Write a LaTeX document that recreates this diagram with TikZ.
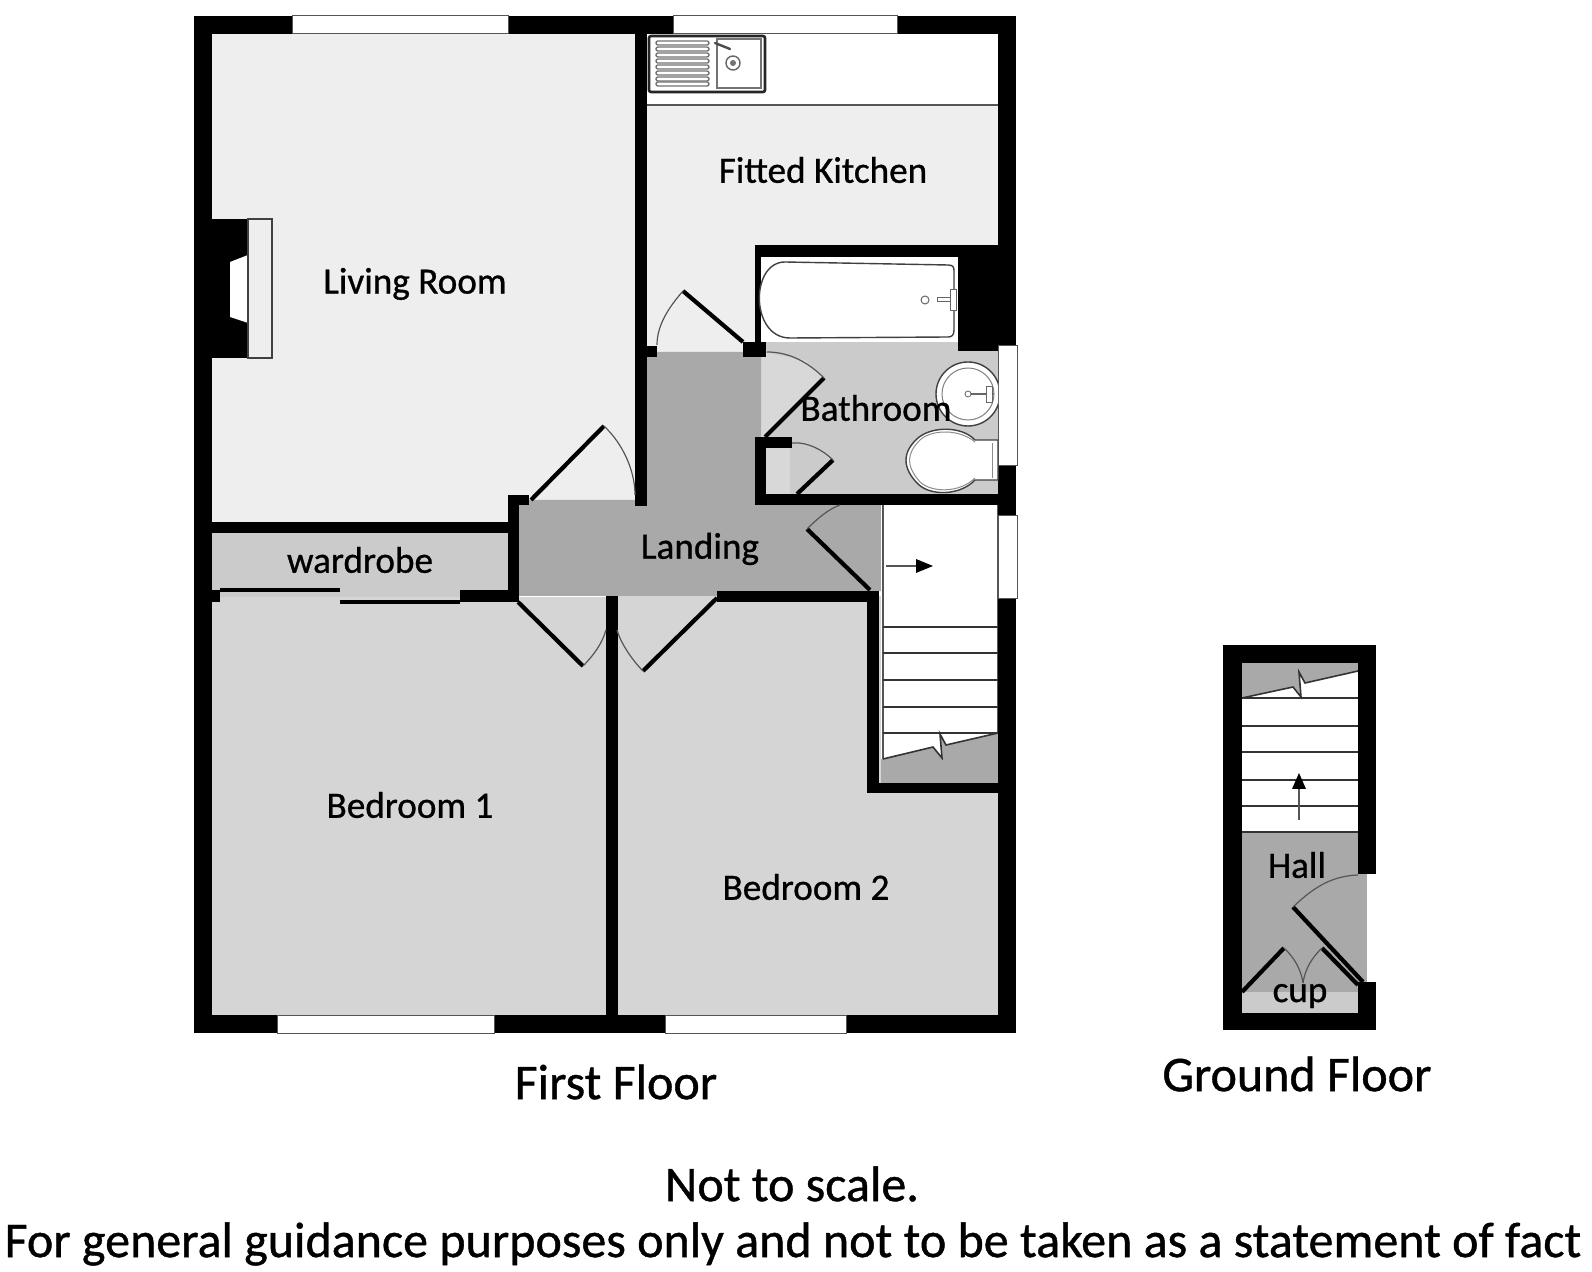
\documentclass[tikz,border=0pt]{standalone}
\usepackage{fontspec}
\setmainfont{Carlito}[BoldFont={Carlito},BoldFeatures={FakeBold=0.8}]
\definecolor{living}{HTML}{EEEEEE}
\definecolor{bedrm}{HTML}{D5D5D5}
\definecolor{landg}{HTML}{A9A9A9}
\definecolor{bathr}{HTML}{CBCBCB}
\definecolor{swingz}{HTML}{D8D8D8}
\definecolor{lineg}{HTML}{555555}
\tikzset{
  wall/.style={fill=black},
  winpane/.style={fill=white,draw=lineg,line width=0.5pt},
  leaf/.style={draw=black,line width=2.1pt},
  swingarc/.style={draw=lineg,line width=0.6pt},
  tread/.style={draw=black!80,line width=0.8pt},
  fixture/.style={draw=black!75,fill=white,line width=0.7pt},
  roomlabel/.style={font=\bfseries\fontsize{18.6}{22}\selectfont,text=black,inner sep=0pt},
  biglabel/.style={font=\bfseries\fontsize{25}{29}\selectfont,text=black,inner sep=0pt},
}
\begin{document}
\begin{tikzpicture}[x=0.5pt,y=-0.5pt]
\useasboundingbox[fill=white] (0,0) rectangle (1592,1272);
% room floors
\fill[living] (212,34) rectangle (635,522);
\fill[living] (646,106) rectangle (998,245);
\fill[living] (646,245) rectangle (755,352);
\fill[white] (646,34) rectangle (998,105);
\draw[draw=lineg,line width=0.7pt] (646,105) -- (998,105);
\fill[bathr] (212,533) rectangle (508,597);
\fill[bedrm] (212,597) rectangle (606,1015);
\fill[bedrm] (617,596) rectangle (998,1015);
\fill[white] (761,257) rectangle (958,342);
\fill[bathr] (761,342) rectangle (998,494);
\fill[swingz] (761,352) -- (805,360) -- (824,378) -- (765,437) -- (761,437) -- cycle;
\fill[swingz] (766,448) rectangle (790,494);
\fill[landg] (519,500) -- (635,500) -- (635,506) -- (647,506) -- (647,352) -- (761,352) -- (761,505) -- (883,505) -- (883,591) -- (717,596) -- (519,596) -- cycle;
% first floor stairs
\fill[white] (881,505) rectangle (998,760);
\fill[landg] (881,759) -- (933,747) -- (942,758) -- (940,734) -- (946,745) -- (998,733) -- (998,783) -- (881,783) -- cycle;
\draw[draw=lineg,line width=0.6pt] (883,505) -- (883,759);
\draw[draw=lineg,line width=0.6pt] (998,505) -- (998,733);
\foreach \ty in {627,653,680,707,733} \draw[tread] (883,\ty) -- (998,\ty);
\draw[tread] (883,759) -- (933,747) -- (942,758) -- (940,734) -- (946,745) -- (998,733);
\draw[draw=lineg,line width=0.8pt] (886,566) -- (916,566);
\fill[black] (933,566) -- (916,559) -- (916,573) -- cycle;
% first floor walls
\fill[wall] (194,16) rectangle (1016,34);
\fill[wall] (194,16) rectangle (212,1033);
\fill[wall] (194,1015) rectangle (1016,1033);
\fill[wall] (998,16) rectangle (1016,1033);
\fill[wall] (635,34) rectangle (647,506);
\fill[wall] (212,522) rectangle (519,533);
\fill[wall] (508,495) rectangle (519,602);
\fill[wall] (508,495) rectangle (529,505);
\fill[wall] (460,590) rectangle (519,602);
\fill[wall] (212,590) rectangle (220,602);
\fill[wall] (606,596) rectangle (617.5,1015);
\fill[wall] (717,591) rectangle (879,602);
\fill[wall] (867,591) rectangle (879,793);
\fill[wall] (867,783) rectangle (998,793);
\fill[wall] (755,245) rectangle (998,257);
\fill[wall] (755,245) rectangle (761,357);
\fill[wall] (958,245) rectangle (998,351);
\fill[wall] (743,342) rectangle (766,357);
\fill[wall] (646,346) rectangle (657,357);
\fill[wall] (755,437) rectangle (766,505);
\fill[wall] (755,437) rectangle (792,448);
\fill[wall] (755,494) rectangle (998,505);
% sliding wardrobe doors
\fill[wall] (220,588) rectangle (340,592);
\fill[wall] (340,600) rectangle (460,604);
% windows
\draw[winpane] (292,16) rectangle (508,34);
\draw[winpane] (673,16) rectangle (897,34);
\draw[winpane] (277,1015) rectangle (494,1033);
\draw[winpane] (665,1015) rectangle (846,1033);
\draw[winpane] (998,346) rectangle (1017,466);
\draw[winpane] (998,516) rectangle (1017,599);
% fireplace
\fill[wall] (212,219) rectangle (249,358);
\fill[white] (230,262) -- (248,255) -- (248,323) -- (230,317) -- cycle;
\draw[draw=black!75,fill=living,line width=0.8pt] (248,219) rectangle (272,358);
% doors
\draw[leaf] (531,500) -- (604,426);
\draw[swingarc] (604,426) .. controls (624,445) and (635,472) .. (635,495);
\draw[leaf] (518,602) -- (583,666);
\draw[swingarc] (583,666) .. controls (593,656) and (602,644) .. (606,630);
\draw[leaf] (717,598) -- (643,671);
\draw[swingarc] (643,671) .. controls (633,661) and (621,644) .. (617,630);
\draw[leaf] (743,342) -- (683,291);
\draw[swingarc] (683,291) .. controls (670,306) and (657,324) .. (657,345);
\draw[leaf] (765,437) -- (824,378);
\draw[swingarc] (767,352) .. controls (789,352) and (808,362) .. (824,378);
\draw[leaf] (797,494) -- (833,460);
\draw[swingarc] (792,443) .. controls (807,441.5) and (823,450) .. (833,460);
\draw[leaf] (870,590) -- (807,529);
\draw[swingarc] (807,529) .. controls (816,520) and (827.5,509.4) .. (840,505);
% sink
\draw[draw=black!85,fill=white,line width=1.3pt,rounded corners=1pt] (649,36) rectangle (765,92);
\draw[draw=black!55,line width=0.6pt] (717,39) rectangle (761,88);
\foreach \ty in {43,49,55,61,67,73,79,84}
  \draw[draw=black!55,fill=white,line width=0.7pt,rounded corners=1pt] (656,\ty-2) rectangle (709,\ty+2);
\draw[draw=black!60,line width=0.7pt] (733,63) circle[radius=7];
\fill[black!55] (733,63) circle[radius=3];
\draw[draw=black!70,line width=1.2pt,line cap=round] (715,43) -- (730,49);
% bath
\draw[fixture] (785,262) -- (948,265) .. controls (954,265) and (954,268) .. (954,272) -- (954,330) .. controls (954,335) and (952,337) .. (948,337) -- (790,338) .. controls (750,338) and (750,262) .. (785,262) -- cycle;
\draw[draw=black!60,fill=white,line width=0.5pt] (925,300) circle[radius=4];
\draw[draw=black!60,fill=white,line width=0.5pt] (937,298) rectangle (955,302);
\draw[draw=black!60,fill=white,line width=0.5pt] (950,290) rectangle (956,311);
% basin
\begin{scope}
\clip (900,350) rectangle (998,440);
\draw[fixture] (968,394) circle[radius=32];
\draw[draw=black!50,line width=0.5pt] (968,394) circle[radius=26];
\end{scope}
\draw[draw=black!60,line width=0.7pt] (968,394) -- (994,394);
\draw[draw=black!60,fill=white,line width=0.4pt] (968,394) circle[radius=3];
\draw[draw=black!60,fill=white,line width=0.4pt] (986,386) rectangle (992,402);
% toilet
\draw[fixture] (975,440) -- (998,440) -- (998,480) -- (975,480) .. controls (960,496) and (930,496) .. (918,484) .. controls (902,468) and (902,452) .. (918,438) .. controls (932,426) and (962,426) .. (975,440) -- cycle;
\draw[draw=black!45,line width=0.5pt] (975,442) .. controls (960,429) and (932,429) .. (920,440) .. controls (906,454) and (906,466) .. (920,482) .. controls (932,493) and (960,493) .. (975,478);
\draw[draw=black!45,line width=0.5pt] (992,443) -- (992,478);
% ground floor floors
\fill[landg] (1242,663) rectangle (1358,992);
\fill[landg] (1358,874) rectangle (1367,982);
\fill[bathr] (1242,992) rectangle (1358,1013);
\fill[white] (1242,698) -- (1293,687) -- (1301,697) -- (1299,672) -- (1305,683) -- (1358,671) -- (1358,832) -- (1242,832) -- cycle;
\foreach \ty in {698,726,752,780,806,832} \draw[tread] (1242,\ty) -- (1358,\ty);
\draw[tread] (1242,698) -- (1293,687) -- (1301,697) -- (1299,672) -- (1305,683) -- (1358,671);
\draw[draw=lineg,line width=0.8pt] (1299,820) -- (1299,789);
\fill[black] (1299,773) -- (1292,789) -- (1306,789) -- cycle;
% ground floor walls
\fill[wall] (1223,645) rectangle (1376,663);
\fill[wall] (1223,645) rectangle (1242,1030);
\fill[wall] (1223,1013) rectangle (1376,1030);
\fill[wall] (1358,645) rectangle (1376,874);
\fill[wall] (1358,982) rectangle (1376,1030);
% ground floor doors
\draw[leaf] (1293,907) -- (1363,982);
\draw[swingarc] (1293,907) .. controls (1312,889) and (1330,876) .. (1358,875);
\draw[leaf] (1242,992) -- (1284,948);
\draw[leaf] (1322,948) -- (1358,985);
\draw[swingarc] (1284,948) .. controls (1294,957.5) and (1301,969) .. (1303,983);
\draw[swingarc] (1322,948) .. controls (1312,957.5) and (1305,969) .. (1303,983);
% labels
\node[roomlabel] (lbliving) at (415,284) {Living Room};
\node[roomlabel] (lbkitchen) at (823,170) {Fitted Kitchen};
\node[roomlabel] (lbbath) at (876,408) {Bathroom};
\node[roomlabel] (lbland) at (700,549) {Landing};
\node[roomlabel] (lbward) at (360,560) {wardrobe};
\node[roomlabel] (lbbed1) at (410,805) {Bedroom 1};
\node[roomlabel] (lbbed2) at (806,887) {Bedroom 2};
\node[roomlabel] (lbhall) at (1297,865) {Hall};
\node[roomlabel] (lbcup) at (1300,996) {cup};
\node[biglabel] (lbfirst) at (616,1082) {First Floor};
\node[biglabel] (lbground) at (1297,1074) {Ground Floor};
\node[biglabel] (lbscale) at (792,1184) {Not to scale.};
\node[biglabel] (lbguid) at (793,1244) {For general guidance purposes only and not to be taken as a statement of fact};
\end{tikzpicture}
\end{document}
